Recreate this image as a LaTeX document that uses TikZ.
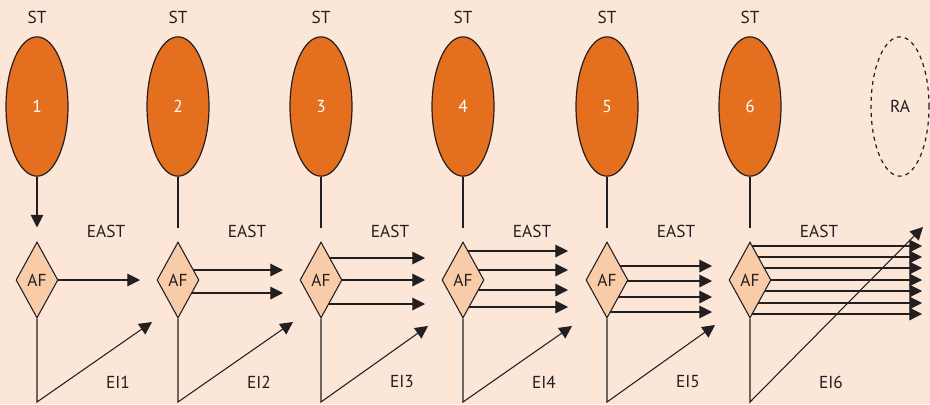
\documentclass[tikz,border=0pt]{standalone}
\usepackage{fontspec}
\setmainfont{PT Sans}
\usetikzlibrary{shapes.geometric,arrows.meta}
\definecolor{bgpeach}{HTML}{FCE6D8}
\definecolor{storange}{HTML}{E4701F}
\definecolor{afpeach}{HTML}{F8CCA8}
\definecolor{ink}{HTML}{231F20}
\pgfdeclarelayer{bg}\pgfdeclarelayer{mid}\pgfsetlayers{bg,mid,main}
\tikzset{
  stnode/.style={ellipse,draw=ink,fill=storange,line width=0.9pt,minimum width=46.5pt,minimum height=104.5pt,inner sep=0pt,text=white,font=\fontsize{13}{15}\selectfont},
  ranode/.style={ellipse,draw=ink,dashed,line width=0.9pt,minimum width=43.5pt,minimum height=104.5pt,inner sep=0pt,text=ink,font=\fontsize{13}{15}\selectfont},
  afnode/.style={diamond,draw=ink,fill=afpeach,line width=0.8pt,minimum width=31.5pt,minimum height=57pt,inner sep=0pt,text=ink,font=\fontsize{13}{15}\selectfont},
  lbl/.style={text=ink,font=\fontsize{13}{15}\selectfont,inner sep=0pt},
  conn/.style={draw=ink,line width=0.8pt},
  arr/.style={conn,-{Triangle[length=9.5pt,width=9.5pt]}},
}
\begin{document}
\begin{tikzpicture}[x=0.75pt,y=-0.75pt]
\begin{pgfonlayer}{bg}
\fill[bgpeach] (0,0) rectangle (930,404);
\end{pgfonlayer}
\useasboundingbox (0,0) rectangle (930,404);
\foreach \i/\cx in {1/37,2/178,3/321,4/463,5/607,6/750}{
  \node[lbl] (st\i) at (\cx,17) {ST};
  \node[stnode] (e\i) at (\cx,106.5) {\i};
  \node[afnode] (af\i) at (\cx,280) {AF};
  \node[lbl] (east\i) at (\cx+69,231) {EAST};
  \node[lbl] (ei\i) at (\cx+81,382) {EI\i};
  \coordinate (b\i) at (\cx,402);
}
\node[ranode] (ra) at (900,106.5) {RA};
% stems
\draw[arr,shorten >=10.5pt] (e1.south) -- (af1.north);
\foreach \i in {2,...,6}{
  \draw[conn,shorten >=9.75pt] (e\i.south) -- (af\i.north);
}
% diagonals
\foreach \i/\dx/\dy in {1/152/322,2/293/322,3/428/326,4/572/326,5/715/325,6/923/227}{
  \coordinate (d\i) at (\dx,\dy);
  \draw[arr] (af\i.south) -- (b\i) -- (d\i);
}
% horizontal arrows
\begin{pgfonlayer}{mid}
\foreach \i/\tx/\ys in {1/140/{280},2/283/{270,293},3/425/{258,280,304},4/568/{251,270,290,307},5/712/{266,281,297,312},6/922/{246,257,268,280,291,303,314}}{
  \foreach \y [count=\k] in \ys {
    \coordinate (h\i-\k) at (\tx,\y);
    \draw[arr] (af\i.center |- h\i-\k) -- (h\i-\k);
  }
}
\end{pgfonlayer}
\end{tikzpicture}
\end{document}
